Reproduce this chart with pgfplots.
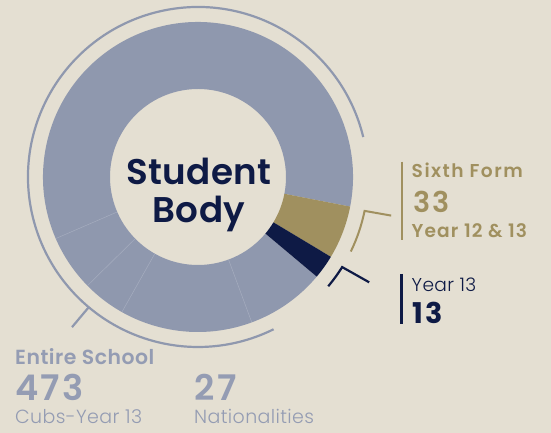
\documentclass[border=0pt]{standalone}
\usepackage{pgfplots}
\pgfplotsset{compat=1.18}
\usepackage{fontspec}
\setmainfont{Poppins}
\newfontfamily\popsbsix{Poppins SemiBold}[LetterSpace=8]
\newfontfamily\popsbyr{Poppins SemiBold}[LetterSpace=6]
\newfontfamily\popsbt{Poppins SemiBold}[LetterSpace=2.5]
\newfontfamily\popsbst{Poppins SemiBold}[LetterSpace=1]
\newfontfamily\popsbn{Poppins SemiBold}[LetterSpace=6]
\newfontfamily\popsbnw{Poppins SemiBold}[LetterSpace=10]
\newfontfamily\popl{Poppins Light}[LetterSpace=2]
\newfontfamily\popb{Poppins Bold}[LetterSpace=8]
\definecolor{bg}{HTML}{E4DFD2}
\definecolor{ring}{HTML}{8F98AE}
\definecolor{gold}{HTML}{A0905F}
\definecolor{navy}{HTML}{0E1A45}
\definecolor{divider}{HTML}{A6ADBF}
\definecolor{txtgray}{HTML}{949CB3}
% ring sector: colour, start angle, end angle
\newcommand{\ringsector}[3]{\fill[#1] (#2:155) arc[start angle=#2, end angle=#3, radius=155] -- (#3:88) arc[start angle=#3, end angle=#2, radius=88] -- cycle;}
\newcommand{\divline}[1]{\draw[divider, line width=0.5pt] (#1:88.5) -- (#1:154.5);}
\begin{document}
\begin{tikzpicture}
\begin{axis}[x=1pt, y=1pt, xmin=0, xmax=551, ymin=0, ymax=433,
  hide axis, clip=false, scale only axis]
\fill[bg] (axis cs:0,0) rectangle (axis cs:551,433);
\begin{scope}[overlay, shift={(axis cs:198,256)}]
  % Entire school ring (gray), Sixth Form (gold), Year 13 (navy)
  \ringsector{ring}{-11}{320}
  \ringsector{gold}{-31}{-11}
  \ringsector{navy}{-40}{-31}
  \divline{203.4}
  \divline{224.5}
  \divline{240.6}
  \divline{290.3}
  % outer arcs
  \draw[ring, line width=2.2pt] (13.6:170) arc[start angle=13.6, end angle=296.4, radius=170];
  \draw[ring, line width=2.2pt] (230:170) -- (230:196);
  \draw[gold, line width=2pt] (-26:170) arc[start angle=-26, end angle=-11.5, radius=170] -- (-11.3:197);
  \draw[navy, line width=2.2pt] (-40:170) arc[start angle=-40, end angle=-32, radius=170] -- (-31.6:201);
\end{scope}
% legend bars
\addplot[gold, line width=2.2pt] coordinates {(401.7,271.3) (401.7,193)};
\addplot[navy, line width=2.5pt] coordinates {(401.7,159) (401.7,109)};
\begin{scope}[overlay]
% centre title
\node[anchor=base, navy, font=\popsbst\fontsize{35.7}{36}\selectfont, inner sep=0pt] at (axis cs:199,248) {Student};
\node[anchor=base, navy, font=\popsbst\fontsize{35.7}{36}\selectfont, inner sep=0pt] at (axis cs:199,210.3) {Body};
% Sixth Form
\node[anchor=base west, gold, font=\popsbsix\fontsize{18.6}{19}\selectfont, inner sep=0pt] at (axis cs:411.5,255.7) {Sixth Form};
\node[anchor=base west, gold, font=\popsbn\fontsize{28.6}{29}\selectfont, inner sep=0pt] at (axis cs:413,220.3) {33};
\node[anchor=base west, gold, font=\popsbyr\fontsize{18.6}{19}\selectfont, inner sep=0pt] at (axis cs:411.5,195.7) {Year 12 \& 13};
% Year 13
\node[anchor=base west, navy, font=\popl\fontsize{18.6}{19}\selectfont, inner sep=0pt] at (axis cs:411.5,141.3) {Year 13};
\node[anchor=base west, navy, font=\popb\fontsize{28.6}{29}\selectfont, inner sep=0pt] at (axis cs:412,109) {13};
% Entire school
\node[anchor=base west, txtgray, font=\popsbt\fontsize{20.4}{21}\selectfont, inner sep=0pt] at (axis cs:15,68) {Entire School};
\node[anchor=base west, txtgray, font=\popsbn\fontsize{35.3}{36}\selectfont, inner sep=0pt] at (axis cs:15,32.3) {473};
\node[anchor=base west, txtgray, font=\popl\fontsize{19}{19}\selectfont, inner sep=0pt] at (axis cs:15,9.7) {Cubs-Year 13};
\node[anchor=base west, txtgray, font=\popsbnw\fontsize{35.3}{36}\selectfont, inner sep=0pt] at (axis cs:194,32.3) {27};
\node[anchor=base west, txtgray, font=\popl\fontsize{19}{19}\selectfont, inner sep=0pt] at (axis cs:194,9.7) {Nationalities};
\end{scope}
\end{axis}
\end{tikzpicture}
\end{document}
